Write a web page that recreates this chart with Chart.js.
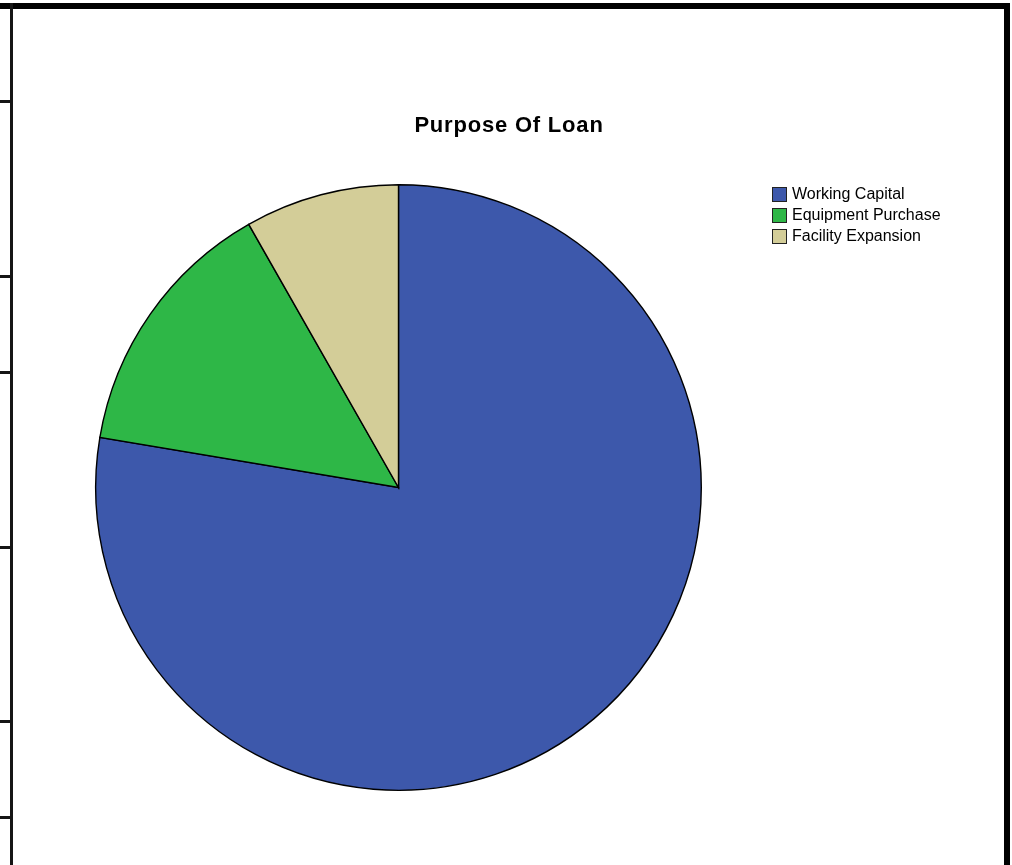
<!DOCTYPE html>
<html>
<head>
<meta charset="utf-8">
<script src="https://cdn.jsdelivr.net/npm/chart.js@4/dist/chart.umd.min.js"></script>
<style>
  html, body { margin: 0; padding: 0; background: #fff; }
  #wrap { width: 1012px; height: 865px; }
</style>
</head>
<body>
<div id="wrap"><canvas id="loanChart" width="1012" height="865"></canvas></div>
<script>
// loan purpose counts
const purposes = ['Working Capital', 'Equipment Purchase', 'Facility Expansion'];
const counts = [66, 12, 7];
const sliceColors = ['#3d58ab', '#2eb747', '#d3cd98'];
const chartTitle = 'Purpose Of Loan';

// left table rule tick positions
const ruleTicks = [101, 276, 372, 547, 721, 817];

// frame around the output cell
const framePlugin = {
    id: 'frame',
    beforeDraw(chart) {
        const c = chart.ctx;
        c.save();
        c.fillStyle = '#fff';
        c.fillRect(0, 0, chart.width, chart.height);
        c.fillStyle = '#000';
        c.fillRect(0, 3, 1010, 6);
        c.fillRect(1004, 3, 6, chart.height);
        c.fillStyle = '#151515';
        c.fillRect(10, 3, 3, chart.height);
        ruleTicks.forEach(y => c.fillRect(0, y - 1, 12, 3));
        c.restore();
    }
};

// title and legend drawn in SPSS style
const labelsPlugin = {
    id: 'spssLabels',
    afterDraw(chart) {
        const c = chart.ctx;
        c.save();
        c.fillStyle = '#000';
        c.font = 'bold 22px "Liberation Sans", Arial, sans-serif';
        c.letterSpacing = '0.8px';
        c.textAlign = 'center';
        c.textBaseline = 'alphabetic';
        c.fillText(chartTitle, 509, 132);

        c.letterSpacing = '0px';
        c.font = '16px "Liberation Sans", Arial, sans-serif';
        c.textAlign = 'left';
        c.textBaseline = 'middle';
        const ds = chart.data.datasets[0];
        chart.data.labels.forEach((lbl, i) => {
            const y = 187 + i * 21;
            c.fillStyle = ds.backgroundColor[i];
            c.fillRect(772, y, 15, 15);
            c.strokeStyle = '#222';
            c.lineWidth = 1;
            c.strokeRect(772.5, y + 0.5, 14, 14);
            c.fillStyle = '#000';
            c.fillText(lbl, 792, y + 8);
        });
        c.restore();
    }
};

new Chart(document.getElementById('loanChart'), {
    type: 'pie',
    data: {
        labels: purposes,
        datasets: [{
            data: counts,
            backgroundColor: sliceColors,
            borderColor: '#000',
            borderWidth: 1.4,
            borderJoinStyle: 'miter'
        }]
    },
    options: {
        responsive: false,
        animation: false,
        events: [],
        layout: {
            padding: { left: 95, top: 184, right: 310, bottom: 74 }
        },
        plugins: {
            legend: { display: false },
            title: { display: false },
            tooltip: { enabled: false }
        }
    },
    plugins: [framePlugin, labelsPlugin]
});
</script>
</body>
</html>
